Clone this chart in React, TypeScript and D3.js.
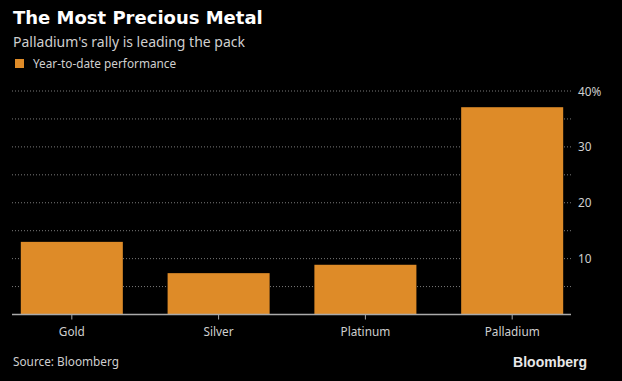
import React from "react";
import * as d3 from "d3";

const categories = ["Gold", "Silver", "Platinum", "Palladium"];
const values = [13.0, 7.4, 8.9, 37.1];
const gridValues = [5, 10, 15, 20, 25, 30, 35, 40];
const tickValues = [10, 20, 30, 40];
const title = "The Most Precious Metal";
const subtitle = "Palladium's rally is leading the pack";
const legendLabel = "Year-to-date performance";
const source = "Source: Bloomberg";
const brand = "Bloomberg";

const W = 622;
const H = 381;
const BAR = "#de8b28";
const TEXT = "#cfcfcf";
const FONT = "'Noto Sans', 'Open Sans', sans-serif";

export default function App() {
  const x = d3
    .scaleBand<string>()
    .domain(categories)
    .range([12, 572])
    .paddingInner(0.305)
    .paddingOuter(0.06);
  const y = d3.scaleLinear().domain([0, 40]).range([314.5, 91]);

  return (
    <svg
      width={W}
      height={H}
      style={{ position: "absolute", left: 0, top: 0, background: "#000" }}
    >
      <rect x={0} y={0} width={W} height={H} fill="#000" />
      <text x={13} y={24} fill="#ffffff" fontFamily="'DejaVu Sans', sans-serif" fontWeight="bold" fontSize={18}>
        {title}
      </text>
      <text x={13} y={47} fill={TEXT} fontFamily={FONT} fontSize={14}>
        {subtitle}
      </text>
      <rect x={15} y={59} width={9} height={9} fill={BAR} />
      <text x={33} y={68} fill={TEXT} fontFamily={FONT} fontSize={11.8}>
        {legendLabel}
      </text>

      {gridValues.map((v) => (
        <line
          key={v}
          x1={12}
          x2={572}
          y1={y(v)}
          y2={y(v)}
          stroke="#7a7a7a"
          strokeWidth={1}
          strokeDasharray="1,2"
        />
      ))}

      {categories.map((c, i) => (
        <rect
          key={c}
          x={x(c)}
          y={y(values[i])}
          width={x.bandwidth()}
          height={y(0) - y(values[i])}
          fill={BAR}
        />
      ))}

      <line x1={12} x2={571} y1={y(0)} y2={y(0)} stroke="#aaaaaa" strokeWidth={1.5} />
      {categories.map((c) => {
        const cx = (x(c) as number) + x.bandwidth() / 2;
        return (
          <g key={c}>
            <line x1={cx} x2={cx} y1={y(0)} y2={y(0) + 5} stroke="#aaaaaa" strokeWidth={1} />
            <text
              x={cx}
              y={336}
              textAnchor="middle"
              fill={TEXT}
              fontFamily={FONT}
              fontSize={11.8}
            >
              {c}
            </text>
          </g>
        );
      })}

      {tickValues.map((v) => (
        <text
          key={v}
          x={578}
          y={y(v) + 4.5}
          fill={TEXT}
          fontFamily={FONT}
          fontSize={11.8}
        >
          {v === 40 ? `${v}%` : v}
        </text>
      ))}

      <text x={13} y={366} fill={TEXT} fontFamily={FONT} fontSize={11.8}>
        {source}
      </text>
      <text
        x={587}
        y={367}
        textAnchor="end"
        fill="#e8e8e8"
        fontFamily="'Liberation Sans', Arial, sans-serif"
        fontWeight="bold"
        fontSize={14}
      >
        {brand}
      </text>
    </svg>
  );
}
